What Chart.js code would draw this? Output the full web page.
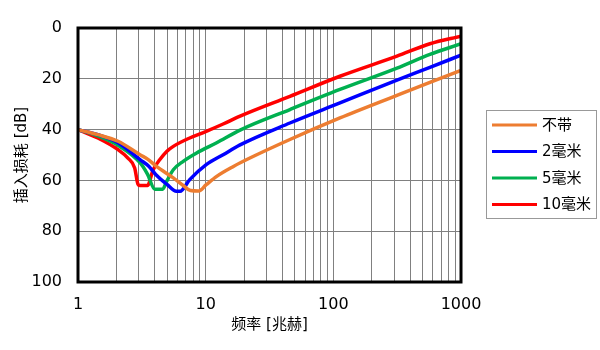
<!DOCTYPE html>
<html>
<head>
<meta charset="utf-8">
<script src="https://cdn.jsdelivr.net/npm/chart.js@4.4.1/dist/chart.umd.min.js"></script>
<style>
    body { margin: 0; background: #fff; }
</style>
</head>
<body>
<canvas id="canvas" width="600" height="350"></canvas>
<script>
"use strict"
// 频率 (MHz) e perdita di inserzione (dB) per ogni curva
const freqNone = [1, 1.43, 2.06, 3.06, 3.53, 4.12, 5.58, 6.67, 7.6, 8.8, 10.1, 12.2, 16.5, 22.2, 45.7, 112.7, 315, 571, 1000];
const lossNone = [40, 42, 44.6, 49.9, 51.7, 54.5, 59, 62, 64, 64.2, 61.7, 58.4, 54.5, 51.2, 43.9, 35.4, 26.5, 21.4, 16.7];

const freq2mm = [1, 1.43, 2.06, 3.06, 3.6, 4.12, 4.95, 5.9, 6.3, 7.5, 10.1, 13.7, 18.6, 45.7, 112.7, 315, 571, 1000];
const loss2mm = [40, 42, 45.2, 51.8, 54.5, 58, 61.5, 64.3, 64.3, 59.7, 53.8, 49.9, 46, 37.4, 29.5, 20.5, 15.5, 10.7];

const freq5mm = [1, 1.43, 2.06, 3.06, 3.5, 4.0, 4.6, 4.95, 5.58, 6.67, 8.5, 12.2, 18.6, 45.7, 112.7, 315, 571, 1000];
const loss5mm = [40, 42.5, 46.2, 53, 57.5, 63.5, 63.5, 60.4, 55.8, 52.5, 49.2, 45.2, 40.2, 32.1, 24.2, 15.8, 10.4, 6.2];

const freq10mm = [1, 1.43, 2.06, 2.46, 2.78, 2.95, 3.05, 3.5, 3.88, 4.38, 4.95, 5.58, 7.5, 10.1, 13.7, 18.6, 45.7, 112.7, 315, 571, 1000];
const loss10mm = [40, 43.3, 47.9, 51.2, 55.1, 61.5, 62, 62, 55.8, 51.8, 48.6, 46.6, 43.3, 40.7, 37.8, 34.7, 26.9, 19, 11.1, 6.2, 3.2];

const seriesNames = ["不带", "2毫米", "5毫米", "10毫米"];
const seriesColors = ["#ED7D31", "#0000FF", "#00B050", "#FF0000"];
const xTickLabels = [1, 10, 100, 1000];
const yTicks = [0, 20, 40, 60, 80, 100];

const fontFamily = "'DejaVu Sans', 'Noto Sans CJK SC', sans-serif";

function toPoints(xs, ys) {
    return xs.map((x, i) => ({ x: x, y: ys[i] }));
}

// linee della griglia: 1..9 per ogni decade
let gridFreqs = [];
for (let d = 1; d < 1000; d *= 10) {
    for (let k = 1; k < 10; k++) gridFreqs.push(k * d);
}
gridFreqs.push(1000);

const allFreqs = [freqNone, freq2mm, freq5mm, freq10mm];
const allLoss = [lossNone, loss2mm, loss5mm, loss10mm];

// cornice nera attorno all'area del grafico
const frame = {
    id: "frame",
    afterDraw(chart) {
        const a = chart.chartArea;
        const ctx = chart.ctx;
        ctx.save();
        ctx.strokeStyle = "#000";
        ctx.lineWidth = 3;
        ctx.strokeRect(a.left, a.top, a.right - a.left, a.bottom - a.top);
        ctx.restore();
    }
};

// legenda con il riquadro a destra
const legendBox = {
    id: "legendBox",
    afterDraw(chart) {
        const ctx = chart.ctx;
        ctx.save();
        ctx.strokeStyle = "#999";
        ctx.lineWidth = 1;
        ctx.strokeRect(486.5, 110.5, 110, 108);
        chart.data.datasets.forEach((ds, i) => {
            const y = 125 + i * 26.5;
            ctx.strokeStyle = ds.borderColor;
            ctx.lineWidth = 3;
            ctx.beginPath();
            ctx.moveTo(492, y);
            ctx.lineTo(537, y);
            ctx.stroke();
            ctx.fillStyle = "#000";
            ctx.font = "15px " + fontFamily;
            ctx.textBaseline = "middle";
            ctx.fillText(ds.label, 542, y + 1);
        });
        ctx.restore();
    }
};

let chartOptions = {
    type: "line",
    data: {
        datasets: seriesNames.map((name, i) => ({
            label: name,
            data: toPoints(allFreqs[i], allLoss[i]),
            borderColor: seriesColors[i],
            backgroundColor: seriesColors[i],
            borderWidth: 3.5,
            pointRadius: 0,
            cubicInterpolationMode: "monotone",
            fill: false
        }))
    },
    options: {
        responsive: false,
        animation: false,
        devicePixelRatio: 1,
        layout: { padding: { top: 28, right: 139, left: 0, bottom: 0 } },
        plugins: {
            legend: { display: false },
            tooltip: { enabled: false }
        },
        scales: {
            x: {
                type: "logarithmic",
                min: 1,
                max: 1000,
                afterBuildTicks: (scale) => {
                    scale.ticks = gridFreqs.map(v => ({ value: v }));
                },
                afterFit: (scale) => { scale.height = 68; },
                grid: { color: "#808080", lineWidth: 1, drawTicks: false },
                border: { display: false },
                ticks: {
                    autoSkip: false,
                    maxRotation: 0,
                    padding: 13,
                    color: "#000",
                    font: { family: fontFamily, size: 16 },
                    callback: (v) => xTickLabels.includes(v) ? String(v) : ""
                },
                title: {
                    display: true,
                    text: "频率 [兆赫]",
                    color: "#000",
                    font: { family: fontFamily, size: 15 },
                    padding: { top: 4, bottom: 16 }
                }
            },
            y: {
                reverse: true,
                min: 0,
                max: 100,
                afterBuildTicks: (scale) => {
                    scale.ticks = yTicks.map(v => ({ value: v }));
                },
                afterFit: (scale) => { scale.width = 78; },
                grid: { color: "#808080", lineWidth: 1, drawTicks: false },
                border: { display: false },
                ticks: {
                    padding: 16,
                    color: "#000",
                    font: { family: fontFamily, size: 16 }
                },
                title: {
                    display: true,
                    text: "插入损耗 [dB]",
                    color: "#000",
                    font: { family: fontFamily, size: 15 },
                    padding: { top: 13, bottom: 0 }
                }
            }
        }
    },
    plugins: [frame, legendBox]
};

let chart = new Chart(document.getElementById("canvas"), chartOptions);
</script>
</body>
</html>
